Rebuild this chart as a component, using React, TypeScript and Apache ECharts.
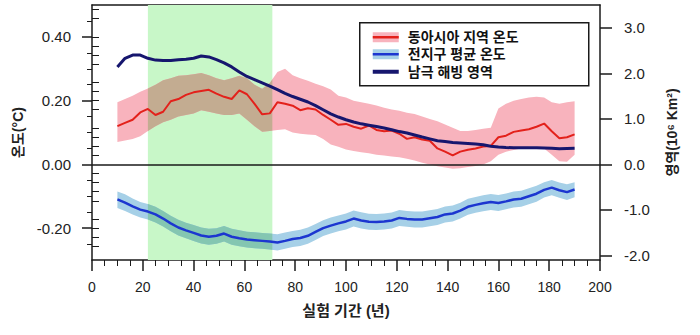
import React, { useEffect, useRef } from "react";
import * as echarts from "echarts";

// ---- data ----
const years = [
  10, 13, 16, 19, 22, 25, 28, 31, 34, 37, 40, 43, 46, 49, 52, 55, 58, 61, 64, 67,
  70, 73, 76, 79, 82, 85, 88, 91, 94, 97, 100, 103, 106, 109, 112, 115, 118, 121, 124, 127,
  130, 133, 136, 139, 142, 145, 148, 151, 154, 157, 160, 163, 166, 169, 172, 175, 178, 181, 184, 187, 190,
];

const eastAsiaTemp = [
  0.12, 0.13, 0.14, 0.163, 0.174, 0.155, 0.165, 0.198, 0.205, 0.218, 0.226, 0.23, 0.234, 0.222, 0.212, 0.205, 0.232, 0.22, 0.19, 0.157,
  0.16, 0.195, 0.19, 0.184, 0.17, 0.176, 0.172, 0.155, 0.14, 0.124, 0.127, 0.118, 0.112, 0.122, 0.108, 0.104, 0.106, 0.096, 0.08, 0.085,
  0.078, 0.074, 0.05, 0.04, 0.028, 0.04, 0.046, 0.05, 0.056, 0.058, 0.085, 0.09, 0.102, 0.106, 0.11, 0.118, 0.128, 0.104, 0.082, 0.085, 0.094,
];
const eastAsiaUpper = [
  0.195, 0.205, 0.215, 0.228, 0.238, 0.25, 0.264, 0.27, 0.278, 0.28, 0.283, 0.287, 0.28, 0.27, 0.264, 0.27, 0.278, 0.27, 0.25, 0.237,
  0.255, 0.29, 0.3, 0.28, 0.27, 0.262, 0.253, 0.245, 0.235, 0.215, 0.21, 0.2, 0.195, 0.19, 0.185, 0.178, 0.172, 0.168, 0.162, 0.158,
  0.15, 0.142, 0.135, 0.125, 0.115, 0.105, 0.105, 0.108, 0.112, 0.115, 0.175, 0.19, 0.2, 0.205, 0.21, 0.212, 0.21, 0.195, 0.19, 0.195, 0.198,
];
const eastAsiaLower = [
  0.07, 0.075, 0.08, 0.088, 0.105, 0.12, 0.132, 0.14, 0.15, 0.155, 0.16, 0.17, 0.165, 0.16, 0.155, 0.155, 0.16, 0.14, 0.12, 0.102,
  0.105, 0.108, 0.11, 0.1, 0.096, 0.094, 0.092, 0.08, 0.062, 0.055, 0.047, 0.042, 0.038, 0.035, 0.03, 0.028, 0.025, 0.022, 0.018, 0.012,
  0.005, 0.0, -0.006, -0.01, -0.014, -0.012, -0.008, -0.005, 0.0, 0.01, 0.03, 0.04, 0.045, 0.05, 0.055, 0.055, 0.05, 0.03, 0.01, 0.008, 0.03,
];

const globalTemp = [
  -0.11, -0.12, -0.132, -0.142, -0.148, -0.157, -0.17, -0.185, -0.198, -0.207, -0.215, -0.223, -0.227, -0.224, -0.217, -0.227, -0.232, -0.236, -0.238, -0.24,
  -0.242, -0.245, -0.24, -0.234, -0.231, -0.224, -0.212, -0.2, -0.192, -0.185, -0.179, -0.17, -0.176, -0.18, -0.181, -0.179, -0.176, -0.168, -0.171, -0.173,
  -0.173, -0.169, -0.165, -0.157, -0.154, -0.145, -0.133, -0.127, -0.122, -0.118, -0.121, -0.116, -0.11, -0.108, -0.1, -0.092, -0.08, -0.073, -0.081, -0.087, -0.079,
];
const globalUpper = [
  -0.085, -0.094, -0.107, -0.118, -0.124, -0.133, -0.146, -0.161, -0.174, -0.183, -0.19, -0.198, -0.202, -0.2, -0.193, -0.202, -0.207, -0.211, -0.213, -0.215,
  -0.217, -0.219, -0.214, -0.209, -0.205, -0.198, -0.187, -0.175, -0.167, -0.16, -0.154, -0.145, -0.15, -0.155, -0.156, -0.154, -0.151, -0.143, -0.146, -0.148,
  -0.148, -0.144, -0.14, -0.132, -0.129, -0.12, -0.108, -0.102, -0.097, -0.093, -0.096, -0.091, -0.085, -0.083, -0.075, -0.067, -0.056, -0.049, -0.057, -0.062, -0.056,
];
const globalLower = [
  -0.137, -0.146, -0.157, -0.167, -0.173, -0.182, -0.195, -0.21, -0.223, -0.232, -0.24, -0.248, -0.252, -0.249, -0.242, -0.252, -0.257, -0.261, -0.263, -0.265,
  -0.267, -0.27, -0.265, -0.259, -0.256, -0.249, -0.237, -0.225, -0.217, -0.21, -0.204, -0.195, -0.201, -0.205, -0.206, -0.204, -0.201, -0.193, -0.196, -0.198,
  -0.198, -0.194, -0.19, -0.182, -0.179, -0.17, -0.158, -0.152, -0.147, -0.143, -0.146, -0.141, -0.135, -0.133, -0.125, -0.117, -0.104, -0.097, -0.105, -0.112, -0.103,
];

const seaIceExtent = [
  2.14, 2.33, 2.4, 2.4, 2.33, 2.29, 2.28, 2.28, 2.3, 2.31, 2.33, 2.38, 2.36, 2.3, 2.23, 2.14, 2.03, 1.93, 1.86, 1.79,
  1.72, 1.64, 1.56, 1.49, 1.43, 1.37, 1.29, 1.2, 1.11, 1.04, 0.98, 0.93, 0.89, 0.86, 0.83, 0.8, 0.76, 0.72, 0.69, 0.645,
  0.6, 0.56, 0.52, 0.5, 0.48, 0.47, 0.46, 0.445, 0.43, 0.4, 0.38, 0.37, 0.365, 0.365, 0.365, 0.365, 0.36, 0.355, 0.345, 0.35, 0.355,
];

const experimentPeriod = [22, 71];

const leftMajorTicks = [-0.2, 0, 0.2, 0.4];
const leftMinorTicks = [-0.25, -0.15, -0.1, -0.05, 0.05, 0.1, 0.15, 0.25, 0.3, 0.35, 0.45];
const rightMajorTicks = [-2, -1, 0, 1, 2, 3];
const rightMinorTicks = [
  -1.8, -1.6, -1.4, -1.2, -0.8, -0.6, -0.4, -0.2, 0.2, 0.4, 0.6, 0.8,
  1.2, 1.4, 1.6, 1.8, 2.2, 2.4, 2.6, 2.8, 3.2, 3.4,
];

const legendLabels = ["동아시아 지역 온도", "전지구 평균 온도", "남극 해빙 영역"];

const LEFT_MIN = -0.3;
const LEFT_MAX = 0.5;
const RIGHT_MIN = -2.1;
const RIGHT_MAX = 3.5;

const FONT = "'Liberation Sans', 'Noto Sans CJK KR', sans-serif";
const INK = "#1a1a1a";

const PINK = "#f8b3bd";
const TAN = "#c3ac91";
const LIGHT_BLUE = "#a6d0e7";
const TEAL = "#84c6b1";
const GREEN = "#c8f7c8";
const RED = "#e3211b";
const BLUE = "#1c36d0";
const NAVY = "#16166e";

function bandRenderer(upper: number[], lower: number[], fill: string, overlapFill: string) {
  return (_params: any, api: any) => {
    const pts: number[][] = [];
    for (let i = 0; i < years.length; i++) pts.push(api.coord([years[i], upper[i]]));
    for (let i = years.length - 1; i >= 0; i--) pts.push(api.coord([years[i], lower[i]]));
    const p0 = api.coord([experimentPeriod[0], LEFT_MAX]);
    const p1 = api.coord([experimentPeriod[1], LEFT_MIN]);
    return {
      type: "group",
      children: [
        { type: "polygon", shape: { points: pts }, style: { fill } },
        {
          type: "polygon",
          shape: { points: pts },
          style: { fill: overlapFill },
          clipPath: {
            type: "rect",
            shape: { x: p0[0], y: p0[1], width: p1[0] - p0[0], height: p1[1] - p0[1] },
          },
        },
      ],
    };
  };
}

export default function App() {
  const ref = useRef<HTMLDivElement>(null);

  useEffect(() => {
    if (!ref.current) return;
    const chart = echarts.init(ref.current, undefined, { renderer: "svg" });

    const pair = (vals: number[]) => years.map((t, i) => [t, vals[i]]);

    const option: any = {
      animation: false,
      backgroundColor: "#ffffff",
      textStyle: { fontFamily: FONT },
      grid: { left: 92, right: 100, top: 5, bottom: 75, containLabel: false },
      xAxis: [
        {
          type: "value",
          min: 0,
          max: 200,
          interval: 20,
          position: "bottom",
          axisLine: { show: true, onZero: false, lineStyle: { color: INK, width: 1.5 } },
          axisTick: { show: true, length: 11, lineStyle: { color: INK, width: 1.5 } },
          minorTick: { show: true, splitNumber: 4, length: 6, lineStyle: { color: INK, width: 1 } },
          splitLine: { show: false },
          axisLabel: { fontSize: 14, color: "#222", margin: 20, fontFamily: FONT },
          name: "실험 기간 (년)",
          nameLocation: "middle",
          nameGap: 43,
          nameTextStyle: { fontSize: 15, fontWeight: "bold", color: "#222", fontFamily: FONT },
        },
        {
          type: "value",
          min: 0,
          max: 200,
          position: "top",
          axisLine: { show: true, onZero: false, lineStyle: { color: INK, width: 1.5 } },
          axisTick: { show: false },
          axisLabel: { show: false },
          splitLine: { show: false },
        },
      ],
      yAxis: [
        {
          type: "value",
          min: LEFT_MIN,
          max: LEFT_MAX,
          position: "left",
          axisLine: { show: true, onZero: false, lineStyle: { color: INK, width: 1.5 } },
          axisTick: { show: true, length: 10, customValues: leftMajorTicks, lineStyle: { color: INK, width: 1.5 } },
          axisLabel: {
            customValues: leftMajorTicks,
            formatter: (v: number) => v.toFixed(2),
            fontSize: 15,
            color: "#222",
            margin: 21,
            fontFamily: FONT,
          },
          splitLine: { show: false },
          name: "온도(°C)",
          nameLocation: "middle",
          nameRotate: 90,
          nameGap: 67,
          nameTextStyle: { fontSize: 14, fontWeight: "bold", color: "#222", fontFamily: FONT },
        },
        {
          type: "value",
          min: RIGHT_MIN,
          max: RIGHT_MAX,
          position: "right",
          axisLine: { show: true, onZero: false, lineStyle: { color: INK, width: 1.5 } },
          axisTick: { show: true, length: 12, customValues: rightMajorTicks, lineStyle: { color: INK, width: 1.5 } },
          axisLabel: {
            customValues: rightMajorTicks,
            formatter: (v: number) => v.toFixed(1),
            fontSize: 15,
            color: "#222",
            margin: 24,
            fontFamily: FONT,
          },
          splitLine: { show: false },
          name: "영역(10⁶ Km²)",
          nameLocation: "middle",
          nameRotate: 90,
          nameGap: 65,
          nameTextStyle: { fontSize: 14, fontWeight: "bold", color: "#222", fontFamily: FONT },
        },
        {
          type: "value",
          min: LEFT_MIN,
          max: LEFT_MAX,
          position: "left",
          axisLine: { show: false },
          axisTick: { show: true, length: 5, customValues: leftMinorTicks, lineStyle: { color: INK, width: 1 } },
          axisLabel: { show: false },
          splitLine: { show: false },
        },
        {
          type: "value",
          min: RIGHT_MIN,
          max: RIGHT_MAX,
          position: "right",
          axisLine: { show: false },
          axisTick: { show: true, length: 7, customValues: rightMinorTicks, lineStyle: { color: INK, width: 1 } },
          axisLabel: { show: false },
          splitLine: { show: false },
        },
      ],
      series: [
        {
          name: "experiment",
          type: "custom",
          xAxisIndex: 0,
          yAxisIndex: 0,
          z: 1,
          silent: true,
          data: [[experimentPeriod[0], experimentPeriod[1]]],
          encode: { x: [0, 1] },
          renderItem: (_p: any, api: any) => {
            const a = api.coord([api.value(0), LEFT_MAX]);
            const b = api.coord([api.value(1), LEFT_MIN]);
            return {
              type: "rect",
              shape: { x: a[0], y: a[1], width: b[0] - a[0], height: b[1] - a[1] },
              style: { fill: GREEN },
            };
          },
        },
        {
          name: "eastAsiaBand",
          type: "custom",
          xAxisIndex: 0,
          yAxisIndex: 0,
          z: 2,
          silent: true,
          clip: true,
          data: [[years[0], eastAsiaTemp[0]]],
          renderItem: bandRenderer(eastAsiaUpper, eastAsiaLower, PINK, TAN),
        },
        {
          name: "globalBand",
          type: "custom",
          xAxisIndex: 0,
          yAxisIndex: 0,
          z: 2,
          silent: true,
          clip: true,
          data: [[years[0], globalTemp[0]]],
          renderItem: bandRenderer(globalUpper, globalLower, LIGHT_BLUE, TEAL),
        },
        {
          name: legendLabels[0],
          type: "line",
          xAxisIndex: 0,
          yAxisIndex: 0,
          z: 3,
          showSymbol: false,
          data: pair(eastAsiaTemp),
          lineStyle: { color: RED, width: 2 },
          itemStyle: { color: RED },
        },
        {
          name: legendLabels[1],
          type: "line",
          xAxisIndex: 0,
          yAxisIndex: 0,
          z: 3,
          showSymbol: false,
          data: pair(globalTemp),
          lineStyle: { color: BLUE, width: 2.5 },
          itemStyle: { color: BLUE },
          markLine: {
            silent: true,
            symbol: "none",
            label: { show: false },
            lineStyle: { color: INK, width: 1.5, type: "solid" },
            data: [{ yAxis: 0 }],
          },
        },
        {
          name: legendLabels[2],
          type: "line",
          xAxisIndex: 0,
          yAxisIndex: 1,
          z: 4,
          showSymbol: false,
          data: pair(seaIceExtent),
          lineStyle: { color: NAVY, width: 3 },
          itemStyle: { color: NAVY },
        },
      ],
      graphic: [
        {
          type: "group",
          left: 359,
          top: 22,
          z: 100,
          children: [
            {
              type: "rect",
              shape: { x: 0, y: 0, width: 229, height: 63 },
              style: { fill: "#ffffff", stroke: INK, lineWidth: 1.5 },
            },
            { type: "rect", shape: { x: 13, y: 9.5, width: 26, height: 10 }, style: { fill: PINK } },
            { type: "line", shape: { x1: 13, y1: 14.5, x2: 39, y2: 14.5 }, style: { stroke: RED, lineWidth: 2.5 } },
            { type: "rect", shape: { x: 13, y: 26.5, width: 26, height: 10 }, style: { fill: LIGHT_BLUE } },
            { type: "line", shape: { x1: 13, y1: 31.5, x2: 39, y2: 31.5 }, style: { stroke: BLUE, lineWidth: 2.5 } },
            { type: "line", shape: { x1: 13, y1: 49, x2: 39, y2: 49 }, style: { stroke: NAVY, lineWidth: 4 } },
            {
              type: "text",
              x: 48,
              y: 14.5,
              style: { text: legendLabels[0], fill: "#111", font: `bold 14px ${FONT}`, verticalAlign: "middle" },
            },
            {
              type: "text",
              x: 48,
              y: 31.5,
              style: { text: legendLabels[1], fill: "#111", font: `bold 14px ${FONT}`, verticalAlign: "middle" },
            },
            {
              type: "text",
              x: 48,
              y: 49,
              style: { text: legendLabels[2], fill: "#111", font: `bold 14px ${FONT}`, verticalAlign: "middle" },
            },
          ],
        },
      ],
    };

    chart.setOption(option);
    return () => chart.dispose();
  }, []);

  return (
    <div
      ref={ref}
      style={{ position: "absolute", left: 0, top: 0, width: 700, height: 335 }}
    />
  );
}
